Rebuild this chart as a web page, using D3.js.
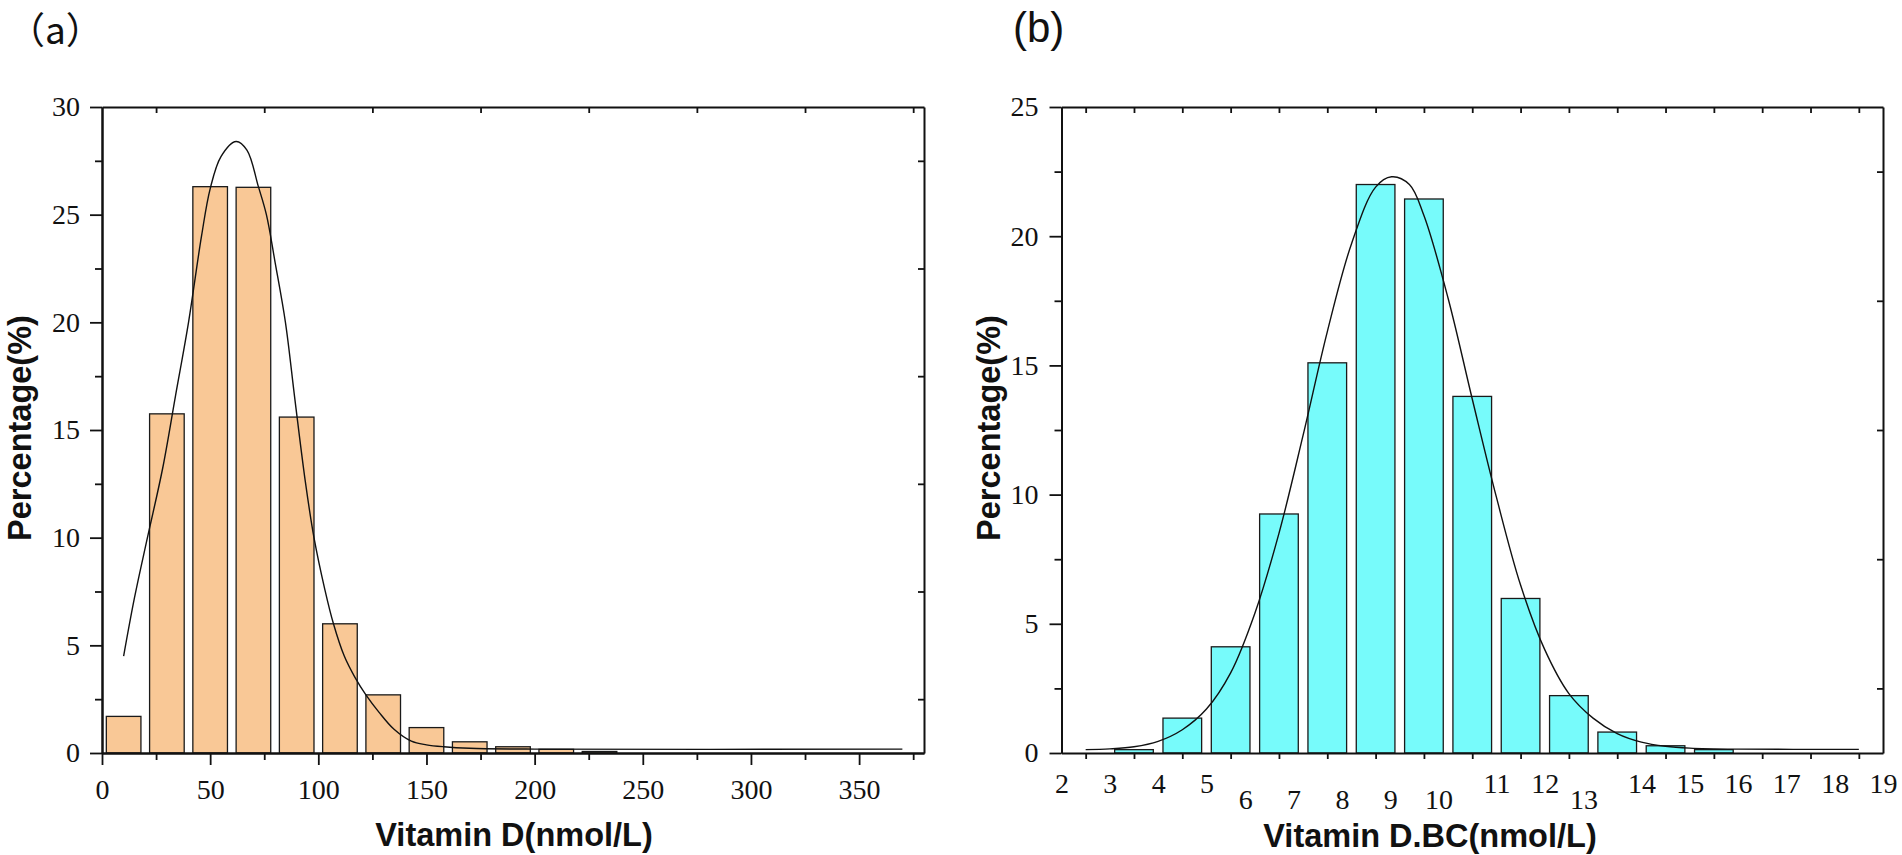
<!DOCTYPE html>
<html>
<head>
<meta charset="utf-8">
<script src="https://cdn.jsdelivr.net/npm/d3@7"></script>
<style>
  html, body { margin: 0; padding: 0; background: #fff; overflow: hidden; }
  .tick text { font-family: "Liberation Serif", "DejaVu Serif", serif; font-size: 28px; fill: #111; }
  .axis-title { font-family: "Liberation Sans", Arial, sans-serif; font-weight: bold; font-size: 32.5px; fill: #111; }
</style>
</head>
<body>
<svg id="chart" width="1902" height="855"></svg>
<script>
// ---- panel (a): Vitamin D, bins of 20 nmol/L ----
const binStartA = [0, 20, 40, 60, 80, 100, 120, 140, 160, 180, 200, 220];
const pctA = [1.7, 15.75, 26.3, 26.27, 15.6, 6.0, 2.7, 1.18, 0.52, 0.29, 0.17, 0.07];
const binWidthA = 20;
// fitted curve [x, %]
const fitA = [
  [10, 4.5], [15, 7.2], [21, 10.0], [28, 13.2], [34, 16.6], [40, 20.0], [46, 24.0],
  [50, 26.2], [55, 27.7], [62, 28.4], [67, 28.0], [72.3, 26.3], [76, 25.0], [80, 22.8],
  [84.8, 20.0], [89.2, 16.4], [94, 12.6], [98, 10.0], [103, 7.6], [107, 6.0], [112, 4.5],
  [117, 3.5], [122, 2.7], [128, 1.9], [135, 1.1], [143, 0.55], [150, 0.38], [158, 0.29],
  [170, 0.22], [200, 0.18], [370, 0.18]
];
const xTicksA = [0, 50, 100, 150, 200, 250, 300, 350];
const xMinorA = [25, 75, 125, 175, 225, 275, 325, 375];
const yTicksA = [0, 5, 10, 15, 20, 25, 30];
const yMinorA = [2.5, 7.5, 12.5, 17.5, 22.5, 27.5];

// ---- panel (b): Vitamin D.BC, bins of 1 nmol/L ----
const binStartB = [3, 4, 5, 6, 7, 8, 9, 10, 11, 12, 13, 14, 15];
const pctB = [0.13, 1.35, 4.11, 9.25, 15.1, 22.0, 21.44, 13.8, 5.98, 2.22, 0.81, 0.28, 0.13];
const binWidthB = 1;
const fitB = [
  [2.5, 0.13], [3, 0.16], [3.5, 0.24], [4, 0.45], [4.5, 0.9], [5, 1.7], [5.5, 3.1],
  [6, 5.4], [6.5, 8.5], [7, 12.3], [7.5, 16.3], [8, 19.7], [8.5, 21.9], [8.83, 22.3],
  [9.2, 22.0], [9.5, 20.8], [10, 17.6], [10.5, 13.7], [11, 9.9], [11.5, 6.5], [12, 4.0],
  [12.5, 2.3], [13, 1.35], [13.5, 0.75], [14, 0.42], [14.5, 0.26], [15, 0.19], [16, 0.15],
  [18.5, 0.14]
];
const xLabelsB = [2, 3, 4, 5, 6, 7, 8, 9, 10, 11, 12, 13, 14, 15, 16, 17, 18, 19];
const droppedLabelsB = [6, 7, 8, 9, 10, 13];   // these sit lower and a bit left in the original
const xTicksB = [2.5, 3.5, 4.5, 5.5, 6.5, 7.5, 8.5, 9.5, 10.5, 11.5, 12.5, 13.5, 14.5, 15.5, 16.5, 17.5, 18.5];
const yTicksB = [0, 5, 10, 15, 20, 25];
const yMinorB = [2.5, 7.5, 12.5, 17.5, 22.5];

const svg = d3.select('#chart');

// layout
const plotTop = 107, plotBottom = 753;
const panelA = { left: 102, right: 924 };
const panelB = { left: 1061.5, right: 1883 };

const xA = d3.scaleLinear().domain([0, 380]).range([panelA.left, panelA.right]);
const yA = d3.scaleLinear().domain([0, 30]).range([plotBottom, plotTop]);
const xB = d3.scaleLinear().domain([2, 19]).range([panelB.left, panelB.right]);
const yB = d3.scaleLinear().domain([0, 25]).range([plotBottom, plotTop]);

function styleAxis(g) {
  g.select('.domain').attr('stroke', '#111').attr('stroke-width', 2);
  g.selectAll('.tick line').attr('stroke', '#111').attr('stroke-width', 1.8);
}

function drawFrame(x, y, p) {
  // top and right borders with small inward ticks
  svg.append('g').attr('transform', `translate(0,${plotTop})`)
    .call(d3.axisTop(x).tickValues(p.topTicks).tickSize(-6).tickSizeOuter(0).tickFormat(''))
    .call(styleAxis);
  svg.append('g').attr('transform', `translate(${x.range()[1]},0)`)
    .call(d3.axisRight(y).tickValues(p.rightTicks).tickSize(-6).tickSizeOuter(0).tickFormat(''))
    .call(styleAxis);
}

function drawBars(x, y, starts, vals, w, fill) {
  svg.append('g').selectAll('rect')
    .data(starts.map((s, i) => ({ s, v: vals[i] })))
    .join('rect')
      .attr('x', d => x(d.s + w * 0.1))
      .attr('width', d => x(d.s + w * 0.9) - x(d.s + w * 0.1))
      .attr('y', d => y(d.v))
      .attr('height', d => y(0) - y(d.v))
      .attr('fill', fill)
      .attr('stroke', '#1a1a1a')
      .attr('stroke-width', 1.3);
}

function drawFit(x, y, pts) {
  const line = d3.line()
    .x(d => x(d[0]))
    .y(d => y(d[1]))
    .curve(d3.curveCatmullRom.alpha(0.5));
  svg.append('path')
    .attr('d', line(pts))
    .attr('fill', 'none')
    .attr('stroke', '#111')
    .attr('stroke-width', 1.4);
}

// ===== panel (a) =====
drawBars(xA, yA, binStartA, pctA, binWidthA, '#F9C896');
drawFit(xA, yA, fitA);
drawFrame(xA, yA, { topTicks: xMinorA, rightTicks: yMinorA });

svg.append('g').attr('transform', `translate(0,${plotBottom})`)
  .call(d3.axisBottom(xA).tickValues(xMinorA).tickSize(7).tickSizeOuter(0).tickFormat(''))
  .call(styleAxis);
svg.append('g').attr('transform', `translate(0,${plotBottom})`)
  .call(d3.axisBottom(xA).tickValues(xTicksA).tickSize(12).tickSizeOuter(0).tickPadding(14))
  .call(styleAxis);

svg.append('g').attr('transform', `translate(${panelA.left},0)`)
  .call(d3.axisLeft(yA).tickValues(yMinorA).tickSize(7).tickSizeOuter(0).tickFormat(''))
  .call(styleAxis);
svg.append('g').attr('transform', `translate(${panelA.left},0)`)
  .call(d3.axisLeft(yA).tickValues(yTicksA).tickSize(12).tickSizeOuter(0).tickPadding(10))
  .call(styleAxis);

svg.append('text').attr('class', 'axis-title')
  .attr('x', 514).attr('y', 846).attr('text-anchor', 'middle')
  .text('Vitamin D(nmol/L)');
svg.append('text').attr('class', 'axis-title')
  .attr('transform', 'translate(31,428) rotate(-90)').attr('text-anchor', 'middle')
  .text('Percentage(%)');
svg.append('text')
  .attr('x', 8).attr('y', 44)
  .attr('font-family', '"Noto Sans CJK SC", sans-serif')
  .attr('font-size', 37).attr('fill', '#111')
  .text('（a）');

// ===== panel (b) =====
drawBars(xB, yB, binStartB, pctB, binWidthB, '#77FBFB');
drawFit(xB, yB, fitB);
drawFrame(xB, yB, { topTicks: xTicksB, rightTicks: yMinorB });

svg.append('g').attr('transform', `translate(0,${plotBottom})`)
  .call(d3.axisBottom(xB).tickValues(xTicksB).tickSize(6).tickSizeOuter(0).tickFormat(''))
  .call(styleAxis);
const labB = svg.append('g').attr('transform', `translate(0,${plotBottom})`)
  .call(d3.axisBottom(xB).tickValues(xLabelsB).tickSize(0).tickPadding(20))
  .call(g => g.select('.domain').remove());
labB.selectAll('.tick')
  .filter(d => droppedLabelsB.includes(d))
  .select('text')
    .attr('transform', 'translate(-9.5,16)');

svg.append('g').attr('transform', `translate(${panelB.left},0)`)
  .call(d3.axisLeft(yB).tickValues(yMinorB).tickSize(7).tickSizeOuter(0).tickFormat(''))
  .call(styleAxis);
svg.append('g').attr('transform', `translate(${panelB.left},0)`)
  .call(d3.axisLeft(yB).tickValues(yTicksB).tickSize(12).tickSizeOuter(0).tickPadding(11))
  .call(styleAxis);

svg.append('text').attr('class', 'axis-title')
  .attr('x', 1430).attr('y', 847).attr('text-anchor', 'middle')
  .text('Vitamin D.BC(nmol/L)');
svg.append('text').attr('class', 'axis-title')
  .attr('transform', 'translate(1000,428) rotate(-90)').attr('text-anchor', 'middle')
  .text('Percentage(%)');
svg.append('text')
  .attr('x', 1013).attr('y', 42)
  .attr('font-family', '"Liberation Sans", Arial, sans-serif')
  .attr('font-size', 42).attr('fill', '#111')
  .text('(b)');
</script>
</body>
</html>
